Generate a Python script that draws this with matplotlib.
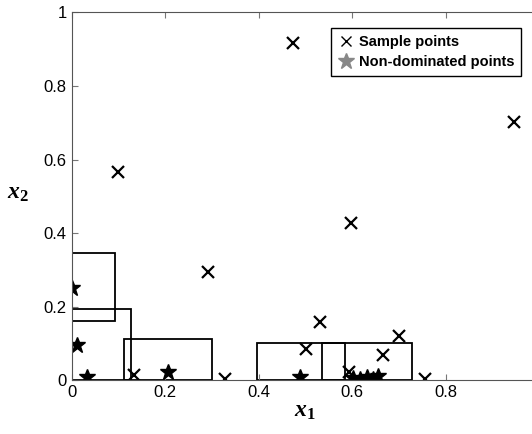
import matplotlib
matplotlib.use("Agg")
import matplotlib.pyplot as plt
from matplotlib.patches import Rectangle
from matplotlib.lines import Line2D

# sample points (crosses)
sample_x = [0.474, 0.947, 0.100, 0.598, 0.293, 0.532, 0.501, 0.701, 0.667,
            0.756, 0.328, 0.134, 0.594]
sample_y = [0.916, 0.703, 0.565, 0.426, 0.295, 0.159, 0.084, 0.120, 0.068,
            0.002, 0.003, 0.014, 0.023]

# non-dominated points (stars)
nd_x = [0.0, 0.011, 0.033, 0.207, 0.489, 0.603, 0.617, 0.631, 0.645, 0.656]
nd_y = [0.251, 0.095, 0.009, 0.023, 0.007, 0.006, 0.002, 0.008, 0.004, 0.010]

# boxes: (x0, y0, x1, y1)
box_x0 = [0.0, 0.0, 0.112, 0.397, 0.536]
box_y0 = [0.161, 0.0, 0.0, 0.0, 0.0]
box_x1 = [0.094, 0.127, 0.301, 0.585, 0.728]
box_y1 = [0.345, 0.193, 0.111, 0.100, 0.100]

tick_vals = [0, 0.2, 0.4, 0.6, 0.8, 1.0]
xtick_labels = ['0', '0.2', '0.4', '0.6', '0.8', '']
ytick_labels = ['0', '0.2', '0.4', '0.6', '0.8', '1']

plt.rcParams['font.family'] = ['Liberation Sans', 'DejaVu Sans']
plt.rcParams['mathtext.fontset'] = 'custom'
plt.rcParams['mathtext.it'] = 'Liberation Serif:italic:bold'
plt.rcParams['mathtext.rm'] = 'Liberation Serif:bold'

fig = plt.figure(figsize=(5.32, 4.34), dpi=100)
ax = fig.add_axes([0.1344, 0.1244, 0.8788, 0.8468])

for x0, y0, x1, y1 in zip(box_x0, box_y0, box_x1, box_y1):
    ax.add_patch(Rectangle((x0, y0), x1 - x0, y1 - y0, fill=False,
                           edgecolor='black', lw=1.3))

ax.plot(sample_x, sample_y, 'x', color='black', ms=8, mew=1.6, ls='none')
ax.plot(nd_x, nd_y, '*', color='black', ms=12, ls='none')

ax.set_xlim(0, 1)
ax.set_ylim(0, 1)
ax.set_xticks(tick_vals)
ax.set_xticklabels(xtick_labels)
ax.set_yticks(tick_vals)
ax.set_yticklabels(ytick_labels)
ax.tick_params(direction='in', top=True, right=True, labelsize=12,
               color='#777777', length=4)
for s in ax.spines.values():
    s.set_color('#555555')

ax.set_xlabel(r'$x_1$', fontsize=17, labelpad=0)
ax.set_ylabel(r'$x_2$', fontsize=17, rotation=0, labelpad=14)
ax.yaxis.set_label_coords(-0.115, 0.48)

handles = [Line2D([], [], marker='x', color='black', ls='none', ms=7, mew=1.0),
           Line2D([], [], marker='*', color='#888888', ls='none', ms=12)]
leg = ax.legend(handles, ['Sample points', 'Non-dominated points'],
                loc='upper left', bbox_to_anchor=(0.554, 0.957),
                borderaxespad=0, fancybox=False, framealpha=1,
                prop={'weight': 'bold', 'size': 10.5}, handletextpad=0.3,
                handlelength=1.2, borderpad=0.45, labelspacing=0.45)
leg.get_frame().set_edgecolor('black')
leg.get_frame().set_linewidth(1.0)

fig.savefig('out.png', dpi=100)
